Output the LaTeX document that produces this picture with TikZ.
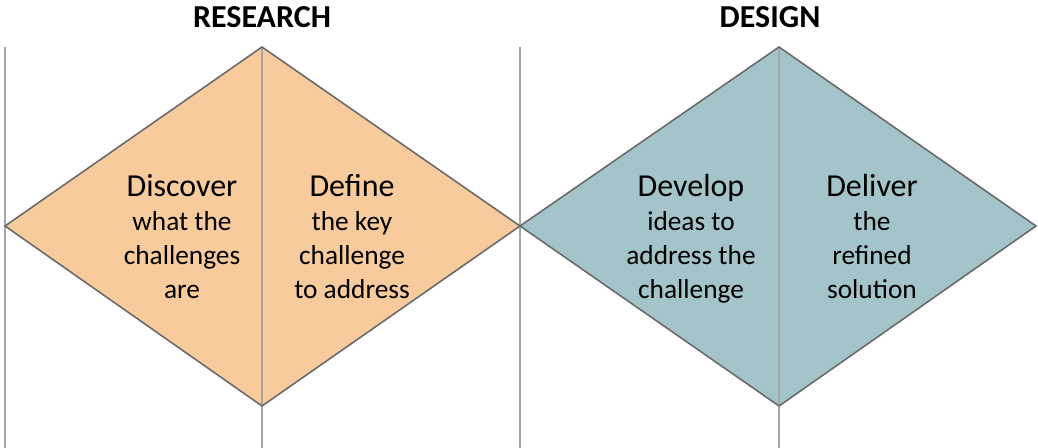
\documentclass[tikz,border=0pt]{standalone}
\usepackage{fontspec}
\setmainfont{Carlito}
\definecolor{researchfill}{HTML}{F8CB9D}
\definecolor{designfill}{HTML}{A3C4C9}
\definecolor{edgegray}{HTML}{6B6B6B}
\definecolor{rulegray}{HTML}{A6A6A6}
\begin{document}
\begin{tikzpicture}[x=0.75pt,y=-0.75pt]
\tikzset{every node/.style={align=center, inner sep=0pt, font=\fontsize{20.5}{25.5}\selectfont},
  heading/.style={font=\fontsize{24}{29}\selectfont\bfseries},
  halfedge/.style={draw=edgegray, line width=1.2pt, line join=miter},
  divider/.style={draw=rulegray, line width=1.1pt}}
\useasboundingbox (0,0) rectangle (1038,448);

% diamond corners
\coordinate (rl) at (5,226);   \coordinate (rt) at (262,47);
\coordinate (rr) at (520,226); \coordinate (rb) at (262,406);
\coordinate (dl) at (520,226); \coordinate (dt) at (779,47);
\coordinate (dr) at (1036,226); \coordinate (db) at (779,406);

\fill [researchfill] (rl) -- (rt) -- (rr) -- (rb) -- cycle;
\fill [designfill] (dl) -- (dt) -- (dr) -- (db) -- cycle;

% dividers, top to bottom of the page
\draw [divider] (5,47) -- (5,448);
\draw [divider] (rt) -- (262,448);
\draw [divider] (520,47) -- (520,448);
\draw [divider] (dt) -- (779,448);

\draw [halfedge] (rl) -- (rt) -- (rr) -- (rb) -- cycle;
\draw [halfedge] (dl) -- (dt) -- (dr) -- (db) -- cycle;

\node [heading, anchor=base] (research) at (262,28) {RESEARCH};
\node [heading, anchor=base] (design) at (770,28) {DESIGN};

\node [anchor=north] (discover) at (182,174) {{\fontsize{24}{25.5}\selectfont Discover}\\what the\\challenges\\are};
\node [anchor=north] (define) at (352,174) {{\fontsize{24}{25.5}\selectfont Define}\\the key\\challenge\\to address};
\node [anchor=north] (develop) at (691,174) {{\fontsize{24}{25.5}\selectfont Develop}\\ideas to\\address the\\challenge};
\node [anchor=north] (deliver) at (872,174) {{\fontsize{24}{25.5}\selectfont Deliver}\\the\\refined\\solution};
\end{tikzpicture}
\end{document}
